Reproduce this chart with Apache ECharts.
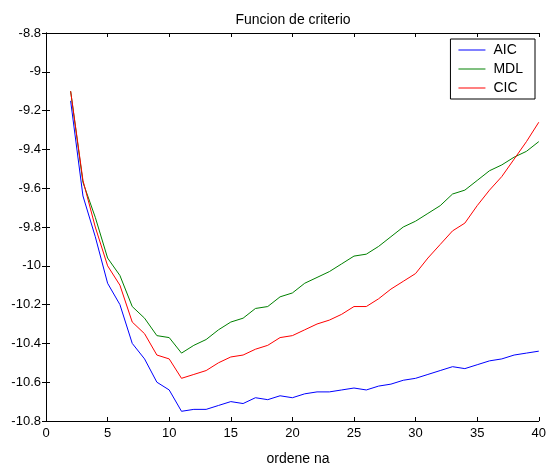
<!DOCTYPE html>
<html>
<head>
<meta charset="utf-8">
<script src="https://cdn.jsdelivr.net/npm/echarts@6/dist/echarts.min.js"></script>
<style>
html,body{margin:0;padding:0;background:#fff;}
#chart{width:549px;height:463px;}
</style>
</head>
<body>
<div id="chart"></div>
<script>
var orders = [2,3,4,5,6,7,8,9,10,11,12,13,14,15,16,17,18,19,20,21,22,23,24,25,26,27,28,29,30,31,32,33,34,35,36,37,38,39,40];
var aic = [-9.15,-9.64,-9.85,-10.09,-10.20,-10.40,-10.48,-10.60,-10.64,-10.75,-10.74,-10.74,-10.72,-10.70,-10.71,-10.68,-10.69,-10.67,-10.68,-10.66,-10.65,-10.65,-10.64,-10.63,-10.64,-10.62,-10.61,-10.59,-10.58,-10.56,-10.54,-10.52,-10.53,-10.51,-10.49,-10.48,-10.46,-10.45,-10.44];
var mdl = [-9.10,-9.57,-9.75,-9.96,-10.05,-10.21,-10.27,-10.36,-10.37,-10.45,-10.41,-10.38,-10.33,-10.29,-10.27,-10.22,-10.21,-10.16,-10.14,-10.09,-10.06,-10.03,-9.99,-9.95,-9.94,-9.90,-9.85,-9.80,-9.77,-9.73,-9.69,-9.63,-9.61,-9.56,-9.51,-9.48,-9.44,-9.41,-9.36];
var cic = [-9.10,-9.56,-9.80,-10.00,-10.10,-10.29,-10.35,-10.46,-10.48,-10.58,-10.56,-10.54,-10.50,-10.47,-10.46,-10.43,-10.41,-10.37,-10.36,-10.33,-10.30,-10.28,-10.25,-10.21,-10.21,-10.17,-10.12,-10.08,-10.04,-9.96,-9.89,-9.82,-9.78,-9.69,-9.61,-9.54,-9.45,-9.36,-9.26];
var seriesNames = ['AIC','MDL','CIC'];
var chartTitle = 'Funcion de criterio';
var xLabel = 'ordene na';

function pairs(ys){ return orders.map(function(x,i){ return [x, ys[i]]; }); }

var font = 'Liberation Sans, Arial, sans-serif';
var axisLineStyle = {color:'#000', width:1};
var chart = echarts.init(document.getElementById('chart'), null, {renderer:'canvas'});
chart.setOption({
  animation:false,
  backgroundColor:'#fff',
  title:[
    {text:chartTitle, left:288, top:8, textAlign:'center', textStyle:{fontFamily:font, fontSize:14, fontWeight:'normal', color:'#000'}},
    {text:xLabel, left:293, top:447, textAlign:'center', textStyle:{fontFamily:font, fontSize:14, fontWeight:'normal', color:'#000'}}
  ],
  grid:{left:46, right:9, top:33, bottom:42, containLabel:false},
  legend:{
    orient:'vertical', right:14, top:39,
    data:seriesNames,
    backgroundColor:'#fff', borderColor:'#000', borderWidth:1, borderRadius:0,
    padding:[4,12,4,8],
    itemWidth:27, itemHeight:14, itemGap:5,
    textStyle:{fontFamily:font, fontSize:14, color:'#000', padding:[0,0,0,3]},
    icon:'path://M0,0 L27,0 L27,1 L0,1 Z'
  },
  xAxis:[
    {type:'value', min:0, max:40, interval:5, position:'bottom',
     axisLine:{lineStyle:axisLineStyle}, axisTick:{inside:true, length:4, lineStyle:axisLineStyle},
     axisLabel:{fontFamily:font, fontSize:13, color:'#000', margin:6}, splitLine:{show:false}},
    {type:'value', min:0, max:40, interval:5, position:'top',
     axisLine:{lineStyle:axisLineStyle}, axisTick:{inside:true, length:4, lineStyle:axisLineStyle},
     axisLabel:{show:false}, splitLine:{show:false}}
  ],
  yAxis:[
    {type:'value', min:-10.8, max:-8.8, interval:0.2, position:'left',
     axisLine:{lineStyle:axisLineStyle}, axisTick:{inside:true, length:4, lineStyle:axisLineStyle},
     axisLabel:{fontFamily:font, fontSize:13, color:'#000', margin:5, formatter:function(v){ return String(parseFloat(v.toFixed(1))); }},
     splitLine:{show:false}},
    {type:'value', min:-10.8, max:-8.8, interval:0.2, position:'right',
     axisLine:{lineStyle:axisLineStyle}, axisTick:{inside:true, length:4, lineStyle:axisLineStyle},
     axisLabel:{show:false}, splitLine:{show:false}}
  ],
  series:[
    {name:seriesNames[0], type:'line', data:pairs(aic), symbol:'none', lineStyle:{color:'#0000ff', width:1}, itemStyle:{color:'#0000ff'}},
    {name:seriesNames[1], type:'line', data:pairs(mdl), symbol:'none', lineStyle:{color:'#008000', width:1}, itemStyle:{color:'#008000'}},
    {name:seriesNames[2], type:'line', data:pairs(cic), symbol:'none', lineStyle:{color:'#ff0000', width:1}, itemStyle:{color:'#ff0000'}}
  ]
});
</script>
</body>
</html>
